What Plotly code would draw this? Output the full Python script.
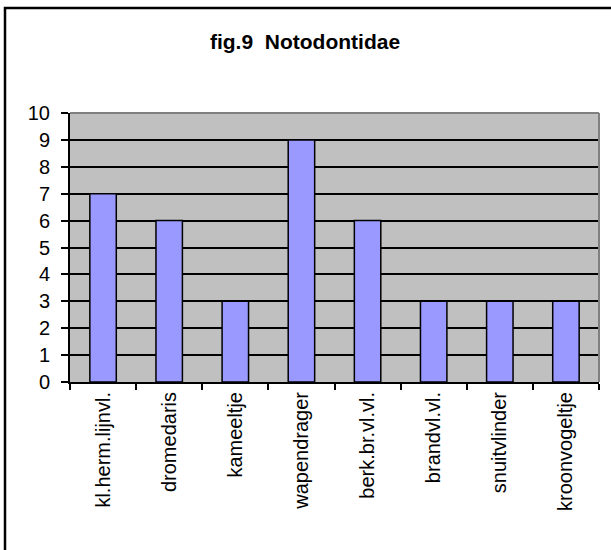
import plotly.graph_objects as go

# chart data
categories = ['kl.herm.lijnvl.', 'dromedaris', 'kameeltje', 'wapendrager',
              'berk.br.vl.vl.', 'brandvl.vl.', 'snuitvlinder', 'kroonvogeltje']
counts = [7, 6, 3, 9, 6, 3, 3, 3]
y_ticks = list(range(0, 11))

FONT = 'Liberation Sans, Arial, sans-serif'

# plot area in pixels (from the reference)
W, H = 611, 550
L, R, T, B = 70, 599, 113, 382
pw, ph = R - L, B - T


def px_x(x):
    return (x - L) / pw


def px_y(y):
    return (B - y) / ph


fig = go.Figure()
fig.add_trace(go.Bar(
    x=categories,
    y=counts,
    marker=dict(color='#9999FF', line=dict(color='black', width=1.5)),
    width=0.4,
))

fig.update_layout(
    width=W,
    height=H,
    margin=dict(l=L, r=W - R, t=T, b=H - B, pad=0),
    paper_bgcolor='white',
    plot_bgcolor='#C0C0C0',
    showlegend=False,
    font=dict(family=FONT, size=20, color='black'),
    title=dict(
        text='<b>fig.9  Notodontidae</b>',
        x=px_x(305), xanchor='center', xref='paper',
        y=1 - 42 / H, yanchor='middle',
        yref='container',
        font=dict(family=FONT, size=21, color='black'),
    ),
    xaxis=dict(
        type='category',
        tickangle=-90,
        showgrid=False,
        showline=True, linecolor='black', linewidth=2,
        ticks='outside', ticklen=6, tickwidth=2, tickcolor='black',
        tickson='boundaries',
        range=[-0.5, len(categories) - 0.5],
        tickfont=dict(family=FONT, size=20),
        fixedrange=True,
    ),
    yaxis=dict(
        range=[0, 10],
        tickvals=y_ticks,
        showgrid=True, gridcolor='black', gridwidth=2,
        showline=True, linecolor='black', linewidth=2,
        ticks='outside', ticklen=7, tickwidth=2, tickcolor='black',
        ticklabelstandoff=7,
        tickfont=dict(family=FONT, size=20),
        zeroline=False,
        fixedrange=True,
    ),
    bargap=0.6,
)

# gray frame on top and right of the plot area
fig.add_shape(type='line', xref='paper', yref='paper',
              x0=0, x1=1, y0=1, y1=1,
              line=dict(color='#808080', width=2))
fig.add_shape(type='line', xref='paper', yref='paper',
              x0=1, x1=1, y0=0, y1=1,
              line=dict(color='#808080', width=2))

# outer chart border (runs off the right and bottom of the image)
fig.add_shape(type='rect', xref='paper', yref='paper',
              x0=px_x(5), x1=px_x(625), y0=px_y(565), y1=px_y(8),
              line=dict(color='black', width=2.5), layer='above')

fig.write_html('out.html',
               config={'displayModeBar': False},
               post_script="document.body.style.margin='0';"
                           "document.body.style.overflow='hidden';")
